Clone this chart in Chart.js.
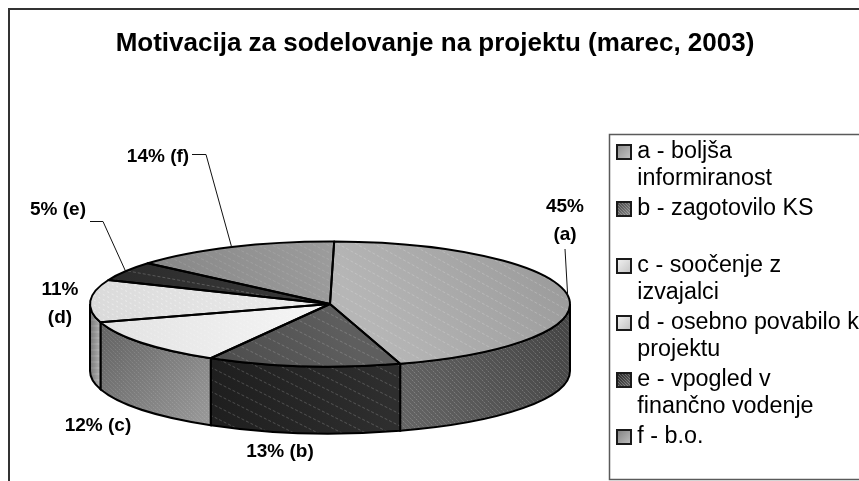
<!DOCTYPE html>
<html><head><meta charset="utf-8">
<style>html,body{margin:0;padding:0;background:#fff;overflow:hidden}canvas{display:block}</style>
<script src="https://cdn.jsdelivr.net/npm/chart.js@4/dist/chart.umd.min.js"></script>
</head><body><canvas id="c" width="859" height="481"></canvas>
<script>
const titleText = 'Motivacija za sodelovanje na projektu (marec, 2003)';
const categories = [['a - boljša','informiranost'],['b - zagotovilo KS',''],['c - soočenje z','izvajalci'],['d - osebno povabilo k','projektu'],['e - vpogled v','finančno vodenje'],['f - b.o.','']];
const values = [45,13,12,11,5,14];
const letters = ['a','b','c','d','e','f'];
const wrapped = [true,false,false,true,false,false];

// layout of the pseudo-3D pie
const W=859,H=481,PIE={cx:330,cy:304,r:240,flat:62.5/240,depth:67};
const labelAt=[[565,207],[280,452],[98,426],[60,290],[58,210],[158,157]];
const leaders=[[[565,249]],null,null,null,[[90,221.5],[103,221.5]],[[192,154.5],[206,154.5]]];

function tex(g,stripe){
  const c=document.createElement('canvas');c.width=W;c.height=H;const x=c.getContext('2d');
  const l=x.createLinearGradient(g[0],g[1],g[2],g[3]);l.addColorStop(0,g[4]);l.addColorStop(1,g[5]);
  x.fillStyle=l;x.fillRect(0,0,W,H);
  if(stripe){
    x.strokeStyle=stripe.color;x.lineWidth=stripe.w||1;x.setLineDash(stripe.dash||[]);
    for(let y=-H*2;y<H*2;y+=stripe.gap){x.beginPath();x.moveTo(0,y);x.lineTo(W,y+W*stripe.slope);x.stroke();}
    if(stripe.cross){for(let y=0;y<H;y+=stripe.cross){x.beginPath();x.moveTo(0,y);x.lineTo(W,y);x.stroke();}}
  }
  return c;
}
const ctxMain=document.getElementById('c').getContext('2d');
const pat=c=>ctxMain.createPattern(c,'repeat');

const topTex=[
 tex([400,370,570,260,'#b6b6b6','#999999'],{color:'rgba(255,255,255,.2)',gap:10,slope:.55,dash:[3,2]}),
 tex([210,360,330,300,'#4c4c4c','#5e5e5e'],{color:'rgba(255,255,255,.18)',gap:11,slope:.5,dash:[3,2]}),
 tex([100,320,330,310,'#e2e2e2','#f6f6f6'],{color:'rgba(255,255,255,.25)',gap:5,slope:.5,dash:[2,2]}),
 tex([90,300,330,300,'#dadada','#ededed'],{color:'rgba(255,255,255,.45)',gap:5,slope:.5,dash:[2,3]}),
 tex([110,270,330,300,'#2b2b2b','#3a3a3a'],{color:'rgba(255,255,255,.2)',gap:11,slope:.18,dash:[3,2]}),
 tex([140,280,330,240,'#858585','#9c9c9c'],{color:'rgba(255,255,255,.12)',gap:7,slope:.5,dash:[3,2]})
];
const sideTex=[
 tex([390,420,570,340,'#666666','#464646'],{color:'rgba(255,255,255,.2)',gap:5,slope:1,dash:[2,1]}),
 tex([206,400,389,400,'#1e1e1e','#2e2e2e'],{color:'rgba(255,255,255,.2)',gap:12,slope:.5,dash:[3,2]}),
 tex([100,340,206,430,'#666666','#9a9a9a'],{color:'rgba(255,255,255,.13)',gap:4,slope:1,dash:[2,1]}),
 tex([90,340,101,340,'#808080','#c0c0c0'],{color:'rgba(0,0,0,.12)',gap:6,slope:0,cross:6}),
 tex([0,0,W,0,'#333','#333']),tex([0,0,W,0,'#888','#888'])
];
const swatchFill=[['#8c8c8c','#c4c4c4'],['#444','#8a8a8a'],['#f2f2f2','#c4c4c4'],['#f2f2f2','#c0c0c0'],['#222','#666'],['#808080','#c0c0c0']];
const swatchHatch=[false,true,false,false,true,false];
function drawSwatch(x,i,sx,sy){
  x.save();
  const g=x.createLinearGradient(sx,sy,sx+14,sy+14);g.addColorStop(0,swatchFill[i][0]);g.addColorStop(1,swatchFill[i][1]);
  x.fillStyle=g;x.fillRect(sx,sy,14,14);
  if(swatchHatch[i]){
    x.beginPath();x.rect(sx,sy,14,14);x.clip();
    x.strokeStyle='rgba(255,255,255,.25)';x.lineWidth=1;
    for(let k=-14;k<14;k+=3){x.beginPath();x.moveTo(sx+k,sy);x.lineTo(sx+k+14,sy+14);x.stroke();}
    x.restore();x.save();
  }
  x.strokeStyle='#1a1a1a';x.lineWidth=2;x.strokeRect(sx,sy,14,14);
  x.restore();
}
const topPatterns=topTex.map(pat);
const sidePatterns=sideTex.map(pat);

const pie3d={
  id:'pie3d',
  beforeDraw(chart){
    const c=chart.ctx;c.save();
    c.fillStyle='#fff';c.fillRect(0,0,W,H);
    c.strokeStyle='#333';c.lineWidth=2;c.beginPath();c.moveTo(9,H);c.lineTo(9,9);c.lineTo(W,9);c.stroke();
    c.strokeStyle='#5a5a5a';c.lineWidth=1.5;c.strokeRect(609.5,134.5,W,345);
    c.restore();
  },
  beforeDatasetsDraw(chart){
    const c=chart.ctx,arcs=chart.getDatasetMeta(0).data,{cx,cy,r,flat,depth}=PIE,ry=r*flat;
    c.save();
    arcs.forEach((a,i)=>{
      const lo=Math.max(a.startAngle,0),hi=Math.min(a.endAngle,Math.PI);
      if(lo>=hi)return;
      c.beginPath();
      c.ellipse(cx,cy,r,ry,0,lo,hi);
      c.ellipse(cx,cy+depth,r,ry,0,hi,lo,true);
      c.closePath();
      c.fillStyle=sidePatterns[i];c.fill();
      c.strokeStyle='#000';c.lineWidth=2;c.stroke();
    });
    c.restore();
    c.save();
    const a0=arcs[0];
    c.translate(cx,cy);c.scale(1,flat);c.translate(-a0.x,-a0.y);
    const m=c.getTransform().inverse();
    topPatterns.forEach(p=>p.setTransform(m));
  },
  afterDatasetsDraw(chart){
    const c=chart.ctx,arcs=chart.getDatasetMeta(0).data,{cx,cy,r,flat}=PIE,ry=r*flat;
    c.restore();
    c.save();
    c.strokeStyle='#000';c.lineWidth=2;c.lineJoin='round';
    arcs.forEach(a=>{
      c.beginPath();c.moveTo(cx,cy);
      c.ellipse(cx,cy,r,ry,0,a.startAngle,a.endAngle);
      c.closePath();c.stroke();
    });
    // leader lines and data labels
    c.fillStyle='#000';c.font='bold 19px "Liberation Sans"';c.textAlign='center';c.textBaseline='middle';
    values.forEach((v,i)=>{
      const a=arcs[i],mid=(a.startAngle+a.endAngle)/2;
      const lines=wrapped[i]?[v+'%','('+letters[i]+')']:[v+'% ('+letters[i]+')'];
      lines.forEach((t,k)=>c.fillText(t,labelAt[i][0],labelAt[i][1]+k*27.5));
      if(leaders[i]){
        c.strokeStyle='#111';c.lineWidth=1;c.beginPath();
        leaders[i].forEach((p,k)=>k?c.lineTo(p[0],p[1]):c.moveTo(p[0],p[1]));
        c.lineTo(cx+r*Math.cos(mid),cy+ry*Math.sin(mid));c.stroke();
      }
    });
    c.restore();
  },
  afterDraw(chart){
    // legend swatches sit closer to the text than the library's own box allows
    chart.legend.legendHitBoxes.forEach((h,i)=>drawSwatch(chart.ctx,i,617,Math.round(h.top+5)));
  }
};

new Chart(ctxMain,{
  type:'pie',
  data:{labels:categories,datasets:[{data:values,backgroundColor:topPatterns,borderWidth:0,radius:PIE.r,clip:false,hoverOffset:0,rotation:1}]},
  plugins:[pie3d],
  options:{
    responsive:false,animation:false,events:[],
    layout:{padding:{left:11,bottom:-1}},
    plugins:{
      tooltip:{enabled:false},
      title:{display:true,text:titleText,color:'#000',font:{family:'"Liberation Sans"',size:26,weight:'bold',lineHeight:1.2},padding:{top:28,bottom:9}},
      legend:{position:'right',align:'end',maxWidth:240.3,
        labels:{color:'#000',font:{family:'"Liberation Sans"',size:23.3,lineHeight:27/23.3},padding:3,boxWidth:4,boxHeight:0,
          generateLabels:()=>categories.map((t,i)=>({text:t,fillStyle:'rgba(0,0,0,0)',hidden:false,lineWidth:0,index:i}))}}
    }
  }
});
</script></body></html>
